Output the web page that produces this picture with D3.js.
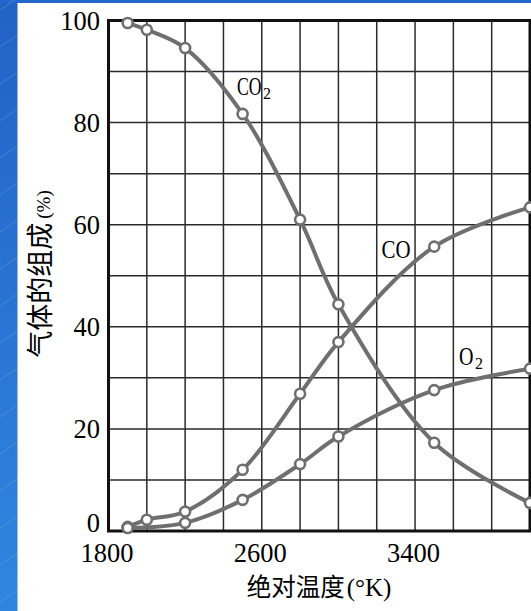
<!DOCTYPE html>
<html>
<head>
<meta charset="utf-8">
<script src="https://cdn.jsdelivr.net/npm/d3@7/dist/d3.min.js"></script>
<style>
  html, body { margin: 0; padding: 0; background: #fff; overflow: hidden; }
  svg { display: block; }
</style>
</head>
<body>
<svg id="chart" width="531" height="611"></svg>
<script>
// Gas composition (%) versus absolute temperature (K)
const co2Temps = [1900, 2000, 2200, 2500, 2800, 3000, 3500, 4000];
const co2Values = [99.5, 98.2, 94.6, 81.7, 61.0, 44.4, 17.3, 5.5];

const coTemps = [1900, 2000, 2200, 2500, 2800, 3000, 3500, 4000];
const coValues = [0.8, 2.2, 3.8, 12.0, 26.9, 37.0, 55.7, 63.4];

const o2Temps = [1900, 2200, 2500, 2800, 3000, 3500, 4000];
const o2Values = [0.6, 1.6, 6.1, 13.1, 18.5, 27.6, 31.8];

const xTickLabels = [1800, 2600, 3400];
const yTickLabels = [0, 20, 40, 60, 80, 100];
const xGrid = d3.range(1800, 4001, 200);
const yGrid = d3.range(0, 101, 10);

const W = 531, H = 611;
const plotLeft = 108.5, plotRight = 530, plotTop = 20.5, plotBottom = 531;

const svg = d3.select("#chart");

// slide-style backdrop: blue band on the left and along the top
const defs = svg.append("defs");
const grad = defs.append("linearGradient").attr("id", "band")
  .attr("x1", 0).attr("y1", 0).attr("x2", 0).attr("y2", 1);
grad.append("stop").attr("offset", "0%").attr("stop-color", "#2262c7");
grad.append("stop").attr("offset", "100%").attr("stop-color", "#2f86df");
svg.append("rect").attr("x", 0).attr("y", 0).attr("width", W).attr("height", H).attr("fill", "#fff");
svg.append("rect").attr("x", 0).attr("y", 0).attr("width", 17.5).attr("height", H).attr("fill", "url(#band)");
svg.append("rect").attr("x", 0).attr("y", 0).attr("width", W).attr("height", 3).attr("fill", "#2368cc");
// faint diagonal streaks in the band
const streaks = svg.append("g").attr("stroke", "#8fb8ee").attr("stroke-width", 0.7).attr("opacity", 0.45);
for (let y0 = 10; y0 < H + 40; y0 += 37) {
  streaks.append("line").attr("x1", 0).attr("y1", y0).attr("x2", 17.5).attr("y2", y0 - 12);
}

const x = d3.scaleLinear().domain([1800, 4000]).range([plotLeft, plotRight]);
const y = d3.scaleLinear().domain([0, 100]).range([plotBottom, plotTop]);

// grid
const grid = svg.append("g").attr("stroke", "#2a2a2a").attr("stroke-width", 1.5);
grid.selectAll("line.v").data(xGrid.slice(1, -1)).join("line")
  .attr("x1", d => x(d)).attr("x2", d => x(d)).attr("y1", plotTop).attr("y2", plotBottom);
grid.selectAll("line.h").data(yGrid.slice(1, -1)).join("line")
  .attr("x1", plotLeft).attr("x2", plotRight).attr("y1", d => y(d)).attr("y2", d => y(d));

// frame
svg.append("rect").attr("x", plotLeft).attr("y", plotTop)
  .attr("width", plotRight - plotLeft).attr("height", plotBottom - plotTop)
  .attr("fill", "none").attr("stroke", "#111").attr("stroke-width", 3);

// curves
const line = d3.line().x(d => x(d[0])).y(d => y(d[1])).curve(d3.curveCatmullRom.alpha(0.5));
const series = [
  d3.zip(co2Temps, co2Values),
  d3.zip(coTemps, coValues),
  d3.zip(o2Temps, o2Values)
];
const curveColor = "#6f6f6f";
series.forEach(pts => {
  svg.append("path").datum(pts).attr("d", line)
    .attr("fill", "none").attr("stroke", curveColor).attr("stroke-width", 4)
    .attr("stroke-linejoin", "round").attr("stroke-linecap", "round");
});
series.forEach(pts => {
  svg.append("g").selectAll("circle").data(pts).join("circle")
    .attr("cx", d => x(d[0])).attr("cy", d => y(d[1])).attr("r", 5)
    .attr("fill", "#fff").attr("stroke", curveColor).attr("stroke-width", 2.6);
});

const serif = "'Liberation Serif', 'DejaVu Serif', serif";
const cjk = "'Noto Sans CJK SC', sans-serif";

// tick labels
svg.append("g").selectAll("text").data(yTickLabels).join("text")
  .attr("x", 100).attr("y", d => y(d) + (d === 0 ? -8 : 0))
  .attr("dy", "0.35em").attr("text-anchor", "end")
  .attr("font-family", serif).attr("font-size", 26.5).attr("fill", "#000")
  .text(d => d);
svg.append("g").selectAll("text").data(xTickLabels).join("text")
  .attr("x", d => x(d) - 1.5).attr("y", 562).attr("text-anchor", "middle")
  .attr("font-family", serif).attr("font-size", 26.5).attr("fill", "#000")
  .text(d => d);

// series labels: narrow base letters (scaled horizontally), subscript after them
function chemLabel(px, py, base, baseLen, sub) {
  const t = svg.append("text").attr("x", 0).attr("y", 0)
    .attr("font-family", serif).attr("font-size", 26).attr("fill", "#000")
    .text(base);
  const natural = t.node().getComputedTextLength();
  t.attr("transform", `translate(${px},${py}) scale(${baseLen / natural},1)`);
  if (sub) {
    svg.append("text").attr("x", px + baseLen + 1.5).attr("y", py + 4)
      .attr("font-family", serif).attr("font-size", 16).attr("fill", "#000")
      .text(sub);
  }
}
chemLabel(237, 94.5, "CO", 24.5, "2");
chemLabel(381.5, 257.5, "CO", 29, null);
chemLabel(459, 364.5, "O", 14.5, "2");

// axis titles
const xt = svg.append("text").attr("x", 319).attr("y", 596).attr("text-anchor", "middle").attr("fill", "#000");
xt.append("tspan").attr("font-family", cjk).attr("font-size", 24.5).text("绝对温度");
xt.append("tspan").attr("font-family", serif).attr("font-size", 25).attr("dx", 2).text("(°K)");

const yt = svg.append("text").attr("transform", "translate(50,274) rotate(-90)")
  .attr("text-anchor", "middle").attr("fill", "#000");
yt.append("tspan").attr("font-family", cjk).attr("font-size", 27).text("气体的组成");
yt.append("tspan").attr("font-family", serif).attr("font-size", 19).attr("dx", 4).text("(%)");
</script>
</body>
</html>
